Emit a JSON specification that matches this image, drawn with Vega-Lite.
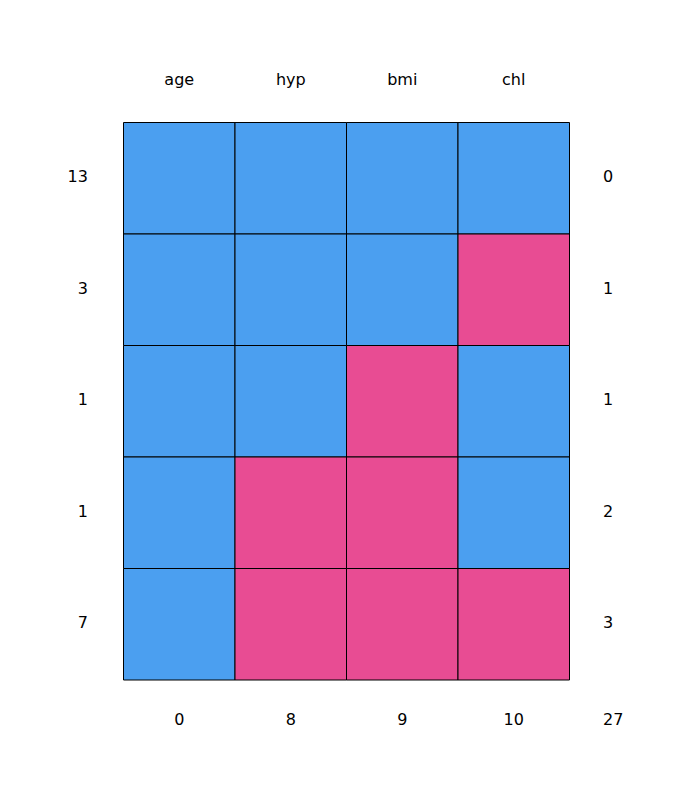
{
  "$schema": "https://vega.github.io/schema/vega-lite/v6.json",
  "width": 669,
  "height": 780.5,
  "autosize": {"type": "none"},
  "padding": {"left": 12, "top": 11, "right": 0, "bottom": 0},
  "background": "white",
  "config": {"view": {"stroke": null}, "text": {"font": "DejaVu Sans", "fontSize": 16, "color": "#000000"}},
  "datasets": {
    "cells": [
      {"pattern": "r1", "variable": "age", "status": "observed"},
      {"pattern": "r1", "variable": "hyp", "status": "observed"},
      {"pattern": "r1", "variable": "bmi", "status": "observed"},
      {"pattern": "r1", "variable": "chl", "status": "observed"},
      {"pattern": "r2", "variable": "age", "status": "observed"},
      {"pattern": "r2", "variable": "hyp", "status": "observed"},
      {"pattern": "r2", "variable": "bmi", "status": "observed"},
      {"pattern": "r2", "variable": "chl", "status": "missing"},
      {"pattern": "r3", "variable": "age", "status": "observed"},
      {"pattern": "r3", "variable": "hyp", "status": "observed"},
      {"pattern": "r3", "variable": "bmi", "status": "missing"},
      {"pattern": "r3", "variable": "chl", "status": "observed"},
      {"pattern": "r4", "variable": "age", "status": "observed"},
      {"pattern": "r4", "variable": "hyp", "status": "missing"},
      {"pattern": "r4", "variable": "bmi", "status": "missing"},
      {"pattern": "r4", "variable": "chl", "status": "observed"},
      {"pattern": "r5", "variable": "age", "status": "observed"},
      {"pattern": "r5", "variable": "hyp", "status": "missing"},
      {"pattern": "r5", "variable": "bmi", "status": "missing"},
      {"pattern": "r5", "variable": "chl", "status": "missing"}
    ],
    "patterns": [
      {"pattern": "r1", "count": "13", "nmiss": "0"},
      {"pattern": "r2", "count": "3", "nmiss": "1"},
      {"pattern": "r3", "count": "1", "nmiss": "1"},
      {"pattern": "r4", "count": "1", "nmiss": "2"},
      {"pattern": "r5", "count": "7", "nmiss": "3"}
    ],
    "vars": [
      {"variable": "age", "nmissing": "0"},
      {"variable": "hyp", "nmissing": "8"},
      {"variable": "bmi", "nmissing": "9"},
      {"variable": "chl", "nmissing": "10"}
    ],
    "total": [{"total": "27"}]
  },
  "resolve": {"scale": {"x": "shared", "y": "shared"}},
  "layer": [
    {
      "data": {"name": "cells"},
      "mark": {"type": "rect", "stroke": "#000000", "strokeWidth": 1},
      "encoding": {
        "x": {"field": "variable", "type": "nominal", "axis": null,
              "scale": {"type": "band", "domain": ["n", "age", "hyp", "bmi", "chl", "nmis"], "paddingInner": 0, "paddingOuter": 0}},
        "y": {"field": "pattern", "type": "nominal", "axis": null,
              "scale": {"type": "band", "domain": ["head", "r1", "r2", "r3", "r4", "r5", "foot"], "paddingInner": 0, "paddingOuter": 0}},
        "color": {"field": "status", "type": "nominal", "legend": null,
                  "scale": {"domain": ["observed", "missing"], "range": ["#4B9FF0", "#E84C93"]}}
      }
    },
    {
      "data": {"name": "vars"},
      "mark": {"type": "text", "align": "center", "baseline": "middle"},
      "encoding": {
        "x": {"field": "variable", "type": "nominal", "axis": null},
        "y": {"datum": "head", "type": "nominal", "bandPosition": 0.616, "axis": null},
        "text": {"field": "variable"}
      }
    },
    {
      "data": {"name": "patterns"},
      "mark": {"type": "text", "align": "right", "baseline": "middle"},
      "encoding": {
        "x": {"datum": "n", "type": "nominal", "bandPosition": 0.68, "axis": null},
        "y": {"field": "pattern", "type": "nominal", "bandPosition": 0.49, "axis": null},
        "text": {"field": "count"}
      }
    },
    {
      "data": {"name": "patterns"},
      "mark": {"type": "text", "align": "left", "baseline": "middle"},
      "encoding": {
        "x": {"datum": "nmis", "type": "nominal", "bandPosition": 0.3, "axis": null},
        "y": {"field": "pattern", "type": "nominal", "bandPosition": 0.49, "axis": null},
        "text": {"field": "nmiss"}
      }
    },
    {
      "data": {"name": "vars"},
      "mark": {"type": "text", "align": "center", "baseline": "middle"},
      "encoding": {
        "x": {"field": "variable", "type": "nominal", "axis": null},
        "y": {"datum": "foot", "type": "nominal", "bandPosition": 0.363, "axis": null},
        "text": {"field": "nmissing"}
      }
    },
    {
      "data": {"name": "total"},
      "mark": {"type": "text", "align": "left", "baseline": "middle"},
      "encoding": {
        "x": {"datum": "nmis", "type": "nominal", "bandPosition": 0.3, "axis": null},
        "y": {"datum": "foot", "type": "nominal", "bandPosition": 0.363, "axis": null},
        "text": {"field": "total"}
      }
    }
  ]
}
